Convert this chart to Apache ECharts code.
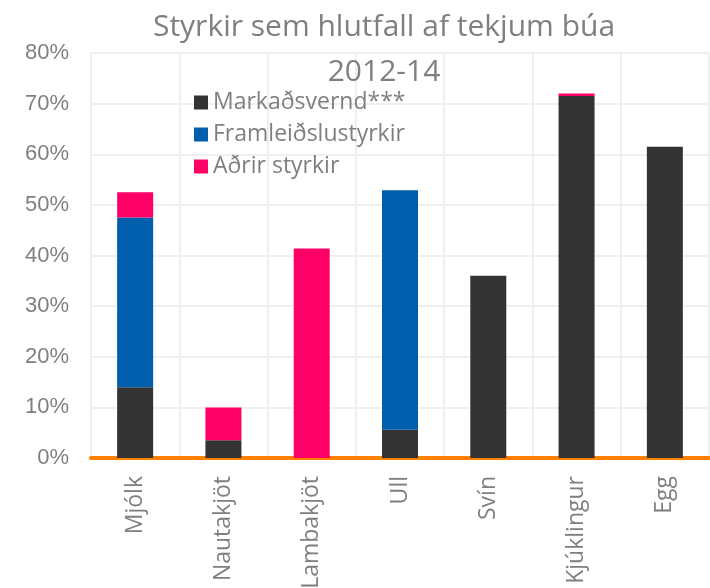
<!DOCTYPE html>
<html>
<head>
<meta charset="utf-8">
<script src="https://cdn.jsdelivr.net/npm/echarts@6/dist/echarts.min.js"></script>
<style>
  html, body { margin: 0; padding: 0; background: #fff; }
  #chart { width: 710px; height: 588px; }
</style>
</head>
<body>
<div id="chart"></div>
<script>
// categories and values (percent)
const categories = ["Mjólk", "Nautakjöt", "Lambakjöt", "Ull", "Svín", "Kjúklingur", "Egg"];
const markadsvernd = [14.0, 3.5, 0, 5.6, 36.0, 71.5, 61.5];
const framleidslustyrkir = [33.5, 0, 0, 47.3, 0, 0, 0];
const adrirStyrkir = [5.0, 6.5, 41.4, 0, 0, 0.5, 0];
const seriesNames = ["Markaðsvernd***", "Framleiðslustyrkir", "Aðrir styrkir"];

const textGray = "#7f7f7f";

const chart = echarts.init(document.getElementById("chart"));

const barSeries = (name, data, color) => ({
  name: name,
  type: "bar",
  stack: "total",
  data: data,
  barWidth: 36,
  itemStyle: { color: color },
});

chart.setOption({
  animation: false,
  title: {
    text: "Styrkir sem hlutfall af tekjum búa\n2012-14",
    left: 379,
    textAlign: "center",
    top: 0,
    textStyle: {
      fontFamily: "Open Sans",
      fontWeight: "normal",
      fontSize: 30,
      lineHeight: 45,
      color: textGray,
    },
  },
  legend: {
    orient: "vertical",
    left: 189,
    top: 86,
    itemWidth: 14,
    itemHeight: 14,
    itemGap: 9,
    icon: "rect",
    textStyle: { fontFamily: "Open Sans", fontSize: 23, color: textGray },
    data: seriesNames,
  },
  grid: { left: 91, right: 1, top: 53, bottom: 130, outerBoundsMode: "none" },
  xAxis: {
    type: "category",
    data: categories,
    axisLine: { lineStyle: { color: "#ff7f00", width: 4 } },
    axisTick: { show: false },
    splitLine: { show: true, lineStyle: { color: "#efefef", width: 2 } },
    axisLabel: {
      rotate: 90,
      margin: 18,
      fontFamily: "Open Sans",
      fontSize: 23,
      color: textGray,
    },
  },
  yAxis: {
    type: "value",
    min: 0,
    max: 80,
    interval: 10,
    axisLine: { show: false },
    axisTick: { show: false },
    splitLine: { lineStyle: { color: "#efefef", width: 2 } },
    axisLabel: {
      formatter: "{value}%",
      margin: 22,
      fontFamily: "Liberation Sans",
      fontSize: 22,
      color: textGray,
    },
  },
  series: [
    barSeries(seriesNames[0], markadsvernd, "#333333"),
    barSeries(seriesNames[1], framleidslustyrkir, "#005eac"),
    barSeries(seriesNames[2], adrirStyrkir, "#ff0066"),
  ],
});
</script>
</body>
</html>
